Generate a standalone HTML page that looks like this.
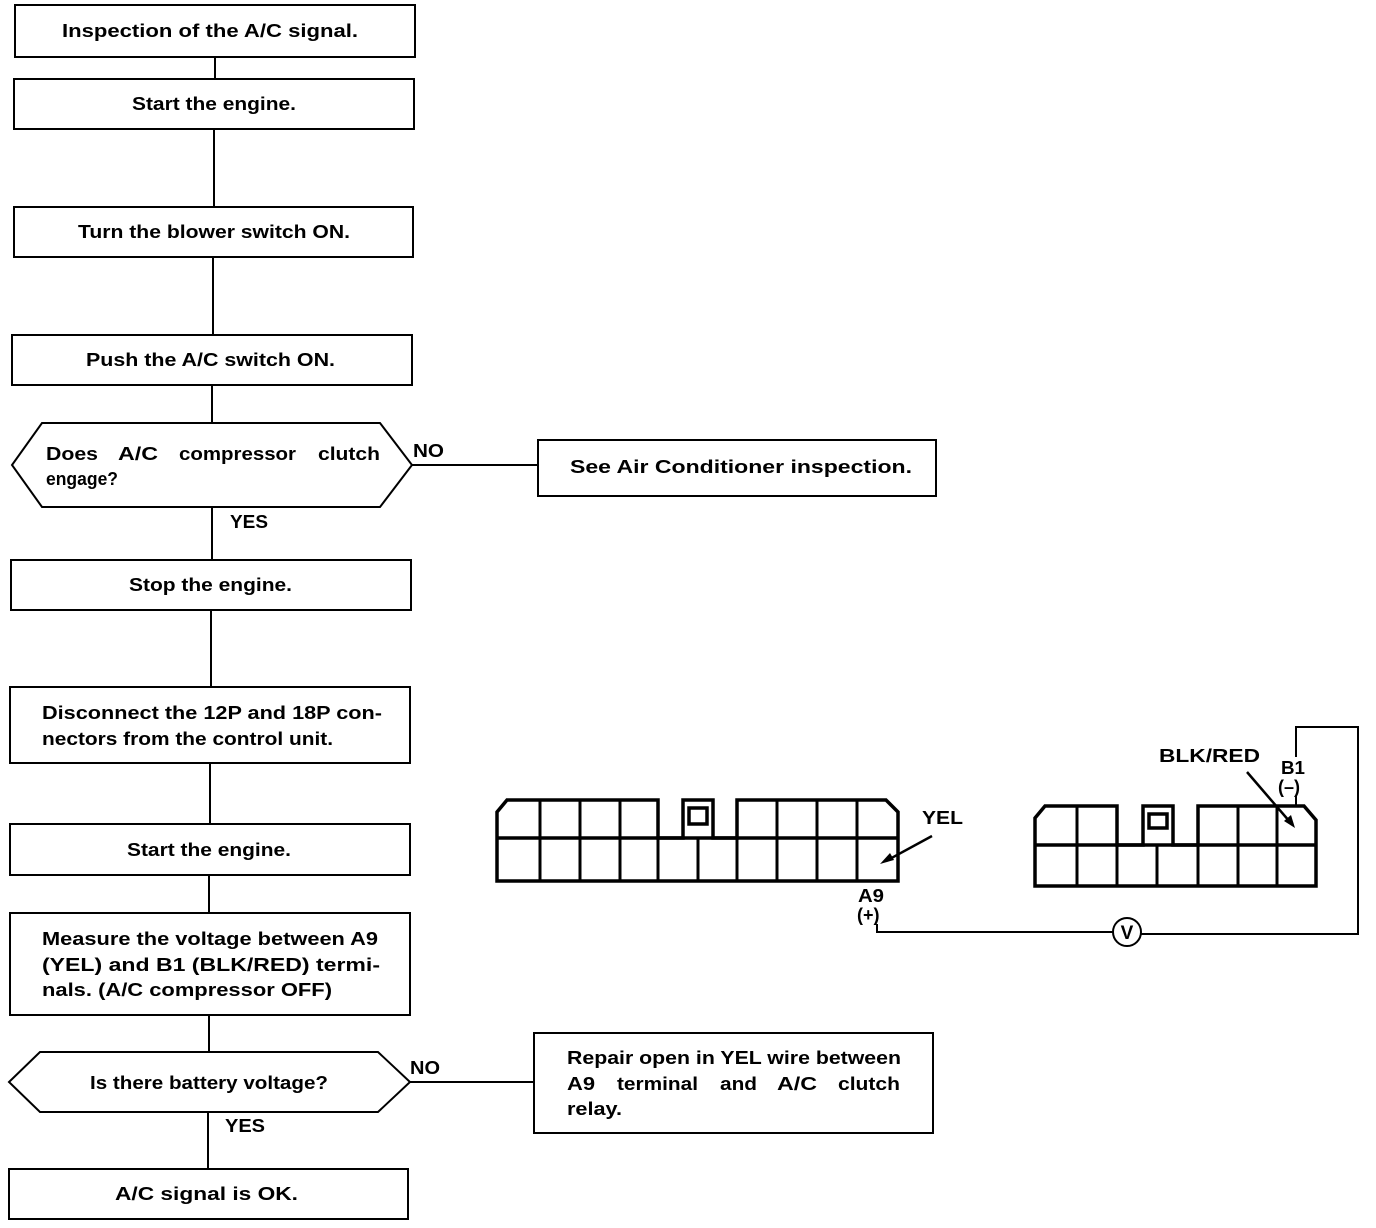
<!DOCTYPE html>
<html><head><meta charset="utf-8"><style>
html,body{margin:0;padding:0;background:#fff;}
svg{display:block;}
text{font-family:"Liberation Sans",Arial,sans-serif;font-weight:bold;font-size:18px;fill:#000;}
</style></head><body>
<svg width="1376" height="1228" viewBox="0 0 1376 1228" xmlns="http://www.w3.org/2000/svg">
<g fill="none" stroke="#000" stroke-width="2">
<rect x="15" y="5" width="400" height="52"/>
<line x1="215" y1="57" x2="215" y2="79"/>
<rect x="14" y="79" width="400" height="50"/>
<line x1="214" y1="129" x2="214" y2="207"/>
<rect x="14" y="207" width="399" height="50"/>
<line x1="213" y1="257" x2="213" y2="335"/>
<rect x="12" y="335" width="400" height="50"/>
<line x1="212" y1="385" x2="212" y2="423"/>
<polygon points="42,423 380,423 412,465 380,507 42,507 12,465"/>
<line x1="412" y1="465" x2="538" y2="465"/>
<rect x="538" y="440" width="398" height="56"/>
<line x1="212" y1="507" x2="212" y2="560"/>
<rect x="11" y="560" width="400" height="50"/>
<line x1="211" y1="610" x2="211" y2="687"/>
<rect x="10" y="687" width="400" height="76"/>
<line x1="210" y1="763" x2="210" y2="824"/>
<rect x="10" y="824" width="400" height="51"/>
<line x1="209" y1="875" x2="209" y2="913"/>
<rect x="10" y="913" width="400" height="102"/>
<line x1="209" y1="1015" x2="209" y2="1052"/>
<polygon points="40,1052 378,1052 410,1082 378,1112 40,1112 9,1082"/>
<line x1="410" y1="1082" x2="534" y2="1082"/>
<rect x="534" y="1033" width="399" height="100"/>
<line x1="208" y1="1112" x2="208" y2="1169"/>
<rect x="9" y="1169" width="399" height="50"/>
</g>
<g fill="none" stroke="#000" stroke-width="3.5" stroke-linejoin="miter">
<path d="M497,881 L497,812 L507,800 L658,800 L658,838 L683,838 L683,800 L713,800 L713,838 L737,838 L737,800 L886,800 L898,812 L898,881 Z"/>
<line x1="497" y1="838" x2="898" y2="838"/>
<rect x="689" y="808" width="18" height="16"/>
</g>
<g stroke="#000" stroke-width="3">
<line x1="540" y1="800" x2="540" y2="881"/><line x1="580" y1="800" x2="580" y2="881"/>
<line x1="620" y1="800" x2="620" y2="881"/><line x1="658" y1="838" x2="658" y2="881"/>
<line x1="698" y1="838" x2="698" y2="881"/><line x1="737" y1="838" x2="737" y2="881"/>
<line x1="777" y1="800" x2="777" y2="881"/><line x1="817" y1="800" x2="817" y2="881"/>
<line x1="857" y1="800" x2="857" y2="881"/>
</g>
<g fill="none" stroke="#000" stroke-width="3.5">
<path d="M1035,886 L1035,818 L1045,806 L1117,806 L1117,845 L1143,845 L1143,806 L1173,806 L1173,845 L1198,845 L1198,806 L1304,806 L1316,820 L1316,886 Z"/>
<line x1="1035" y1="845" x2="1316" y2="845"/>
<rect x="1149" y="814" width="18" height="14"/>
</g>
<g stroke="#000" stroke-width="3">
<line x1="1077" y1="806" x2="1077" y2="886"/><line x1="1117" y1="845" x2="1117" y2="886"/>
<line x1="1157" y1="845" x2="1157" y2="886"/><line x1="1198" y1="845" x2="1198" y2="886"/>
<line x1="1238" y1="806" x2="1238" y2="886"/><line x1="1277" y1="806" x2="1277" y2="886"/>
</g>
<g fill="none" stroke="#000" stroke-width="2.5">
<line x1="932" y1="836" x2="886" y2="861"/>
<line x1="1247" y1="772" x2="1290" y2="822"/>
</g>
<polygon points="880,864 890,853 894,860" fill="#000"/>
<polygon points="1295,828 1284,821 1291,815" fill="#000"/>
<g fill="none" stroke="#000" stroke-width="2">
<polyline points="1296,757 1296,727 1358,727 1358,934 1141,934"/>
<polyline points="1113,932 877,932 877,924"/>
<circle cx="1127" cy="932" r="14"/>
<line x1="1296" y1="795" x2="1296" y2="806"/>
</g>
<g>
<text x="62" y="37" textLength="296" lengthAdjust="spacingAndGlyphs">Inspection of the A/C signal.</text>
<text x="132" y="110" textLength="164" lengthAdjust="spacingAndGlyphs">Start the engine.</text>
<text x="78" y="238" textLength="272" lengthAdjust="spacingAndGlyphs">Turn the blower switch ON.</text>
<text x="86" y="366" textLength="249" lengthAdjust="spacingAndGlyphs">Push the A/C switch ON.</text>
<text x="46" y="460" textLength="52" lengthAdjust="spacingAndGlyphs">Does</text>
<text x="118" y="460" textLength="40" lengthAdjust="spacingAndGlyphs">A/C</text>
<text x="179" y="460" textLength="117" lengthAdjust="spacingAndGlyphs">compressor</text>
<text x="318" y="460" textLength="62" lengthAdjust="spacingAndGlyphs">clutch</text>
<text x="46" y="485" textLength="72" lengthAdjust="spacingAndGlyphs">engage?</text>
<text x="413" y="457" textLength="31" lengthAdjust="spacingAndGlyphs">NO</text>
<text x="230" y="528" textLength="38" lengthAdjust="spacingAndGlyphs">YES</text>
<text x="570" y="473" textLength="342" lengthAdjust="spacingAndGlyphs">See Air Conditioner inspection.</text>
<text x="129" y="591" textLength="163" lengthAdjust="spacingAndGlyphs">Stop the engine.</text>
<text x="42" y="719" textLength="340" lengthAdjust="spacingAndGlyphs">Disconnect the 12P and 18P con-</text>
<text x="42" y="745" textLength="291" lengthAdjust="spacingAndGlyphs">nectors from the control unit.</text>
<text x="127" y="856" textLength="164" lengthAdjust="spacingAndGlyphs">Start the engine.</text>
<text x="42" y="945" textLength="336" lengthAdjust="spacingAndGlyphs">Measure the voltage between A9</text>
<text x="42" y="971" textLength="338" lengthAdjust="spacingAndGlyphs">(YEL) and B1 (BLK/RED) termi-</text>
<text x="42" y="996" textLength="290" lengthAdjust="spacingAndGlyphs">nals. (A/C compressor OFF)</text>
<text x="90" y="1089" textLength="238" lengthAdjust="spacingAndGlyphs">Is there battery voltage?</text>
<text x="410" y="1074" textLength="30" lengthAdjust="spacingAndGlyphs">NO</text>
<text x="225" y="1132" textLength="40" lengthAdjust="spacingAndGlyphs">YES</text>
<text x="567" y="1064" textLength="334" lengthAdjust="spacingAndGlyphs">Repair open in YEL wire between</text>
<text x="567" y="1090" textLength="28" lengthAdjust="spacingAndGlyphs">A9</text>
<text x="617" y="1090" textLength="81" lengthAdjust="spacingAndGlyphs">terminal</text>
<text x="720" y="1090" textLength="37" lengthAdjust="spacingAndGlyphs">and</text>
<text x="777" y="1090" textLength="40" lengthAdjust="spacingAndGlyphs">A/C</text>
<text x="838" y="1090" textLength="62" lengthAdjust="spacingAndGlyphs">clutch</text>
<text x="567" y="1115" textLength="55" lengthAdjust="spacingAndGlyphs">relay.</text>
<text x="115" y="1200" textLength="183" lengthAdjust="spacingAndGlyphs">A/C signal is OK.</text>
<text x="922" y="824" textLength="41" lengthAdjust="spacingAndGlyphs">YEL</text>
<text x="1159" y="762" textLength="101" lengthAdjust="spacingAndGlyphs">BLK/RED</text>
<text x="1281" y="774" textLength="24" lengthAdjust="spacingAndGlyphs">B1</text>
<text x="1278" y="793">(–)</text>
<text x="858" y="902" textLength="26" lengthAdjust="spacingAndGlyphs">A9</text>
<text x="857" y="921">(+)</text>
<text x="1127" y="939" text-anchor="middle" style="font-size:19px">V</text>
</g>
</svg>
</body></html>
